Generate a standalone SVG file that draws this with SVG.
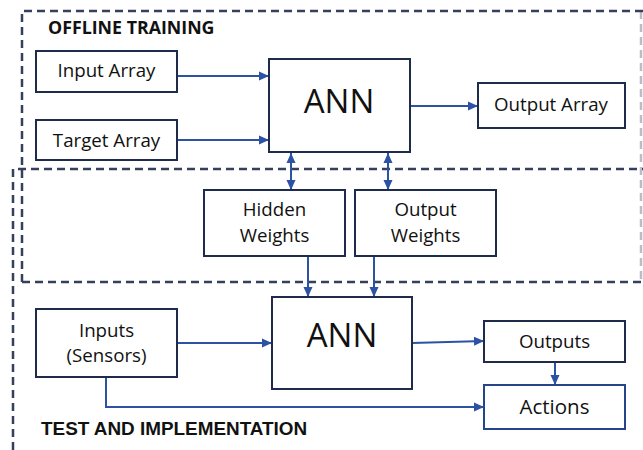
<svg xmlns="http://www.w3.org/2000/svg" width="643" height="450" viewBox="0 0 643 450">
<defs>
<marker id="ah" markerUnits="userSpaceOnUse" markerWidth="11" markerHeight="10" refX="10" refY="5" orient="auto-start-reverse">
<path d="M0,0.5 L10,5 L0,9.5 z" fill="#2b52a3"/>
</marker>
<style>
.box{fill:#fff;stroke:#1e2b4a;stroke-width:2}
.t{font-family:"Open Sans","Noto Sans",sans-serif;font-size:18.7px;fill:#111;text-anchor:middle}
.big{font-size:33px}
.dash{fill:none;stroke:#35415c;stroke-width:2.5;stroke-dasharray:8 5}
.con{fill:none;stroke:#2b52a3;stroke-width:2}
.hd{font-family:"Open Sans","Noto Sans",sans-serif;font-weight:bold;font-size:17.8px;fill:#111}
.hd2{font-family:"Liberation Sans",Arial,sans-serif;font-weight:bold;font-size:18.9px;fill:#111}
</style>
</defs>
<g id="regions">
<path class="dash" d="M22,282 V11 H643"/>
<path class="dash" d="M22,282 H641"/>
<path class="dash" d="M641,11 V282" stroke-opacity="0.35" stroke-width="2"/>
<path class="dash" d="M13,450 V169 H643"/>
<text class="hd" x="48" y="34">OFFLINE TRAINING</text>
<text class="hd2" x="41" y="435">TEST AND IMPLEMENTATION</text>
</g>
<g id="connectors">
<path class="con" d="M177,76 H269" marker-end="url(#ah)"/>
<path class="con" d="M177,140 H269" marker-end="url(#ah)"/>
<path class="con" d="M411,106 H478" marker-end="url(#ah)"/>
<path class="con" d="M291,153 V190" marker-start="url(#ah)" marker-end="url(#ah)"/>
<path class="con" d="M388,153 V190" marker-start="url(#ah)" marker-end="url(#ah)"/>
<path class="con" d="M308,256 V297" marker-end="url(#ah)"/>
<path class="con" d="M374,256 V297" marker-end="url(#ah)"/>
<path class="con" d="M177,343 H272" marker-end="url(#ah)"/>
<path class="con" d="M412,343 L484,341" marker-end="url(#ah)"/>
<path class="con" d="M555,362 V385" marker-end="url(#ah)"/>
<path class="con" d="M106,377 V407 H484" marker-end="url(#ah)"/>
</g>
<g id="input-array">
<rect class="box" x="36" y="51" width="141" height="41"/>
<text class="t" x="106.5" y="77">Input Array</text>
</g>
<g id="target-array">
<rect class="box" x="36" y="120" width="141" height="40"/>
<text class="t" x="106.5" y="147">Target Array</text>
</g>
<g id="ann-training">
<rect class="box" x="269" y="59" width="141" height="93"/>
<text class="t big" x="339" y="113">ANN</text>
</g>
<g id="output-array">
<rect class="box" x="478" y="83" width="147" height="45"/>
<text class="t" x="551" y="111">Output Array</text>
</g>
<g id="hidden-weights">
<rect class="box" x="204" y="190" width="141" height="66"/>
<text class="t" x="274.5" y="216">Hidden</text>
<text class="t" x="274.5" y="242">Weights</text>
</g>
<g id="output-weights">
<rect class="box" x="355" y="190" width="141" height="66"/>
<text class="t" x="425.5" y="216">Output</text>
<text class="t" x="425.5" y="242">Weights</text>
</g>
<g id="ann-test">
<rect class="box" x="272" y="297" width="140" height="92"/>
<text class="t big" x="342" y="347">ANN</text>
</g>
<g id="inputs-sensors">
<rect class="box" x="36" y="309" width="141" height="68"/>
<text class="t" x="106.5" y="337">Inputs</text>
<text class="t" x="106.5" y="362">(Sensors)</text>
</g>
<g id="outputs">
<rect class="box" x="484" y="321" width="141" height="41"/>
<text class="t" x="554.5" y="348">Outputs</text>
</g>
<g id="actions">
<rect class="box" x="484" y="385" width="141" height="44" style="stroke:#26448a"/>
<text class="t" x="554.5" y="414" style="font-size:20.5px">Actions</text>
</g>
</svg>
